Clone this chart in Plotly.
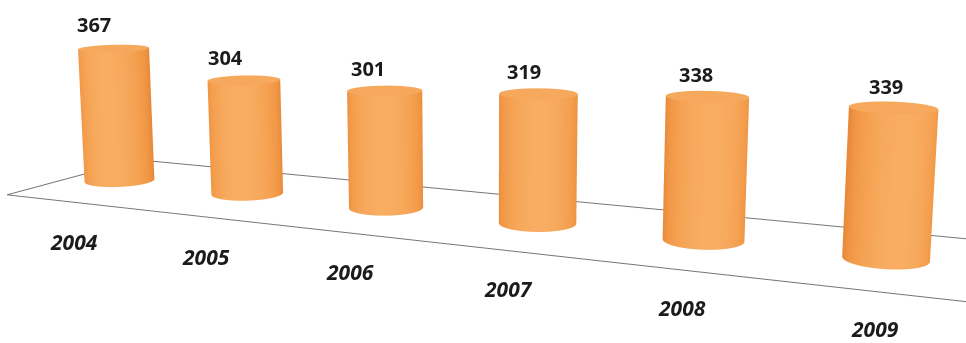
import numpy as np
import plotly.graph_objects as go

# ---------------- data ----------------
years = ["2004", "2005", "2006", "2007", "2008", "2009"]
values = [367, 304, 301, 319, 338, 339]

# ---------------- style / geometry (not data) ----------------
R = 0.225                # cylinder radius (category units)
ZW = 0.00238             # world units per value unit (for aspect ratio)
FLOOR_X = [-0.35, 6.8]   # floor extent along categories (runs off-screen right)
FLOOR_Y = [-0.68, 0.65]  # floor depth
XR = [-0.6, 7.0]         # axis ranges (slightly larger than floor so nothing is clipped)
YR = [-0.95, 0.75]
ZR = [-10, 430]
VAL_LABEL_Y = -0.2       # depth plane of the value labels
YEAR_LABEL_Y = -0.45     # depth plane of the category labels

BODY_SCALE = [[0.0, "#E8893A"], [0.4, "#F19846"], [0.75, "#F5A354"], [1.0, "#F8AD62"]]
CAP_COLOR = "#F6A85D"
FLOOR_COLOR = "#777777"

FIG_W, FIG_H = 966, 1300  # tall scene -> narrow field of view (weak perspective)
VIEW_H = 343

Lx, Ly = XR[1] - XR[0], YR[1] - YR[0]
Lz = (ZR[1] - ZR[0]) * ZW
S = 0.2
aspect = dict(x=Lx * S, y=Ly * S, z=Lz * S)
cx, cy, czw = np.mean(XR), np.mean(YR), np.mean(ZR) * ZW


def to_norm(wx, wy, wz):
    return dict(x=(wx - cx) * S, y=(wy - cy) * S, z=(wz - czw) * S)


# camera: pitch 11 deg down, rotated 25 deg, slight roll
theta, phi, D, roll = np.radians(11), np.radians(25), 9.22, np.radians(0.9)
dvec = np.array([np.cos(theta) * np.sin(phi), -np.cos(theta) * np.cos(phi), np.sin(theta)])
target = np.array([2.65, 0.0, 0.28])
eye = target + D * dvec
view_az = np.arctan2(dvec[1], dvec[0])
right = np.cross(-dvec, [0, 0, 1])
right /= np.linalg.norm(right)
up = np.array([0, 0, 1.0]) - np.tan(roll) * right

fig = go.Figure()
flat = dict(ambient=1, diffuse=0, specular=0, roughness=1, fresnel=0)

# cylinders
t = np.linspace(0, 2 * np.pi, 73)
for i, v in enumerate(values):
    T, Z = np.meshgrid(t, np.array([0.0, v]))
    C = np.clip(np.cos(T - view_az), 0, 1)
    fig.add_trace(go.Surface(
        x=i + R * np.cos(T), y=R * np.sin(T), z=Z, surfacecolor=C, cmin=0, cmax=1,
        colorscale=BODY_SCALE, showscale=False, hoverinfo="skip", lighting=flat,
    ))
    T2, RR = np.meshgrid(t, np.linspace(0, R, 6))
    fig.add_trace(go.Surface(
        x=i + RR * np.cos(T2), y=RR * np.sin(T2), z=np.full_like(RR, v),
        surfacecolor=np.zeros_like(RR), cmin=0, cmax=1,
        colorscale=[[0, CAP_COLOR], [1, CAP_COLOR]], showscale=False,
        hoverinfo="skip", lighting=flat,
    ))

# floor outline
fig.add_trace(go.Scatter3d(
    x=[FLOOR_X[1], FLOOR_X[0], FLOOR_X[0], FLOOR_X[1]],
    y=[FLOOR_Y[0], FLOOR_Y[0], FLOOR_Y[1], FLOOR_Y[1]],
    z=[0, 0, 0, 0],
    mode="lines", line=dict(color=FLOOR_COLOR, width=2), hoverinfo="skip",
))

annotations = []
for i, v in enumerate(values):
    annotations.append(dict(
        x=i, y=VAL_LABEL_Y, z=v, text=f"<b>{v}</b>", showarrow=False, yshift=27,
        font=dict(family="Open Sans", size=20, color="#1b1b1b"),
    ))
for i, yname in enumerate(years):
    annotations.append(dict(
        x=i + 0.1, y=YEAR_LABEL_Y, z=0, text=f"<b><i>{yname}</i></b>", showarrow=False,
        yshift=-48, xshift=-14,
        font=dict(family="Open Sans", size=21, color="#1b1b1b"),
    ))

noax = dict(visible=False, showbackground=False, showgrid=False, zeroline=False,
            showspikes=False)
fig.update_layout(
    width=FIG_W, height=FIG_H,
    margin=dict(l=0, r=0, t=0, b=0),
    paper_bgcolor="white", plot_bgcolor="white",
    showlegend=False,
    scene=dict(
        domain=dict(x=[0, 1], y=[0, 1]),
        xaxis=dict(range=XR, **noax),
        yaxis=dict(range=YR, **noax),
        zaxis=dict(range=ZR, **noax),
        aspectmode="manual", aspectratio=aspect,
        bgcolor="white",
        camera=dict(
            projection=dict(type="perspective"),
            up=dict(x=up[0], y=up[1], z=up[2]),
            center=to_norm(*target),
            eye=to_norm(*eye),
        ),
        annotations=annotations,
    ),
)

shift = FIG_H // 2 - VIEW_H // 2
post = (
    "var gd=document.getElementById('{plot_id}');"
    "gd.style.position='relative';gd.style.top='-%dpx';"
    "document.body.style.margin='0';document.body.style.overflow='hidden';"
    "document.documentElement.style.overflow='hidden';" % shift
)
fig.write_html("out.html", post_script=post)
